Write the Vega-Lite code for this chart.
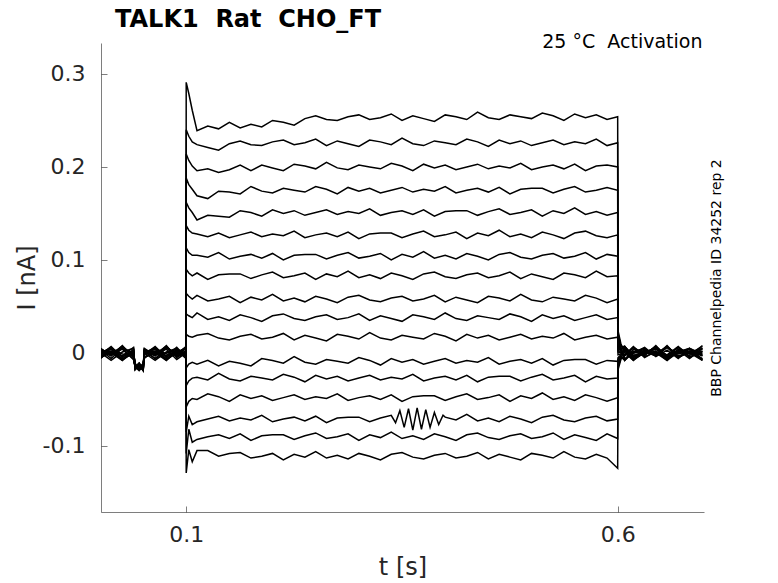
{
"$schema":"https://vega.github.io/schema/vega-lite/v6.json",
"width":603,"height":469,
"autosize":{"type":"none"},
"padding":{"left":101,"top":43,"right":74,"bottom":71},
"background":"white",
"title":{"text":"TALK1\u00a0 Rat\u00a0 CHO_FT","anchor":"start","frame":"group","dx":14,"offset":1,"font":"DejaVu Sans","fontSize":24,"fontWeight":"bold","color":"#000000"},
"config":{"view":{"stroke":null},"axis":{"labelFont":"DejaVu Sans","titleFont":"DejaVu Sans","grid":false}},
"resolve":{"axis":{"y":"independent","x":"independent"}},
"layer":[
{"data":{"values":[
{"s":1,"t":0.001,"i":-0.003},{"s":1,"t":0.013,"i":0},{"s":1,"t":0.026,"i":0.005},{"s":1,"t":0.039,"i":-0.007},{"s":1,"t":0.0408,"i":-0.014},{"s":1,"t":0.0455,"i":-0.017},{"s":1,"t":0.0502,"i":-0.011},{"s":1,"t":0.0515,"i":-0.005},{"s":1,"t":0.064,"i":0.001},{"s":1,"t":0.077,"i":0.004},{"s":1,"t":0.089,"i":-0.007},{"s":1,"t":0.0998,"i":0},
{"s":1,"t":0.1,"i":0.291},{"s":1,"t":0.103,"i":0.279},{"s":1,"t":0.107,"i":0.261},
{"s":1,"t":0.1125,"i":0.239},{"s":1,"t":0.125,"i":0.244},{"s":1,"t":0.1375,"i":0.241},{"s":1,"t":0.15,"i":0.248},{"s":1,"t":0.1625,"i":0.242},{"s":1,"t":0.175,"i":0.246},{"s":1,"t":0.1875,"i":0.243},{"s":1,"t":0.2,"i":0.25},{"s":1,"t":0.2125,"i":0.248},{"s":1,"t":0.225,"i":0.245},{"s":1,"t":0.2375,"i":0.252},{"s":1,"t":0.25,"i":0.255},{"s":1,"t":0.2625,"i":0.251},{"s":1,"t":0.275,"i":0.25},{"s":1,"t":0.2875,"i":0.254},{"s":1,"t":0.3,"i":0.256},{"s":1,"t":0.3125,"i":0.251},{"s":1,"t":0.325,"i":0.253},{"s":1,"t":0.3375,"i":0.257},{"s":1,"t":0.35,"i":0.25},{"s":1,"t":0.3625,"i":0.255},{"s":1,"t":0.375,"i":0.252},{"s":1,"t":0.3875,"i":0.249},{"s":1,"t":0.4,"i":0.256},{"s":1,"t":0.4125,"i":0.254},{"s":1,"t":0.425,"i":0.251},{"s":1,"t":0.4375,"i":0.259},{"s":1,"t":0.45,"i":0.253},{"s":1,"t":0.4625,"i":0.251},{"s":1,"t":0.475,"i":0.256},{"s":1,"t":0.4875,"i":0.254},{"s":1,"t":0.5,"i":0.252},{"s":1,"t":0.5125,"i":0.258},{"s":1,"t":0.525,"i":0.255},{"s":1,"t":0.5375,"i":0.25},{"s":1,"t":0.55,"i":0.257},{"s":1,"t":0.5625,"i":0.253},{"s":1,"t":0.575,"i":0.256},{"s":1,"t":0.5875,"i":0.251},{"s":1,"t":0.5998,"i":0.254},
{"s":1,"t":0.6002,"i":0.024},{"s":1,"t":0.6035,"i":0.01},{"s":1,"t":0.608,"i":0},{"s":1,"t":0.618,"i":-0.008},{"s":1,"t":0.631,"i":0.001},{"s":1,"t":0.644,"i":0.005},{"s":1,"t":0.657,"i":-0.003},{"s":1,"t":0.67,"i":0.006},{"s":1,"t":0.683,"i":-0.001},{"s":1,"t":0.698,"i":0.002},
{"s":2,"t":0.001,"i":-0.005},{"s":2,"t":0.013,"i":0.001},{"s":2,"t":0.026,"i":0.004},{"s":2,"t":0.039,"i":-0.007},{"s":2,"t":0.0408,"i":-0.015},{"s":2,"t":0.0455,"i":-0.012},{"s":2,"t":0.0502,"i":-0.017},{"s":2,"t":0.0515,"i":0.003},{"s":2,"t":0.064,"i":-0.006},{"s":2,"t":0.077,"i":0.005},{"s":2,"t":0.089,"i":-0.001},{"s":2,"t":0.0998,"i":-0.002},
{"s":2,"t":0.1,"i":0.24},{"s":2,"t":0.103,"i":0.233},{"s":2,"t":0.107,"i":0.227},
{"s":2,"t":0.1125,"i":0.224},{"s":2,"t":0.125,"i":0.221},{"s":2,"t":0.1375,"i":0.218},{"s":2,"t":0.15,"i":0.225},{"s":2,"t":0.1625,"i":0.228},{"s":2,"t":0.175,"i":0.224},{"s":2,"t":0.1875,"i":0.223},{"s":2,"t":0.2,"i":0.227},{"s":2,"t":0.2125,"i":0.229},{"s":2,"t":0.225,"i":0.224},{"s":2,"t":0.2375,"i":0.226},{"s":2,"t":0.25,"i":0.23},{"s":2,"t":0.2625,"i":0.223},{"s":2,"t":0.275,"i":0.228},{"s":2,"t":0.2875,"i":0.225},{"s":2,"t":0.3,"i":0.222},{"s":2,"t":0.3125,"i":0.229},{"s":2,"t":0.325,"i":0.227},{"s":2,"t":0.3375,"i":0.224},{"s":2,"t":0.35,"i":0.231},{"s":2,"t":0.3625,"i":0.225},{"s":2,"t":0.375,"i":0.223},{"s":2,"t":0.3875,"i":0.228},{"s":2,"t":0.4,"i":0.226},{"s":2,"t":0.4125,"i":0.224},{"s":2,"t":0.425,"i":0.23},{"s":2,"t":0.4375,"i":0.227},{"s":2,"t":0.45,"i":0.222},{"s":2,"t":0.4625,"i":0.229},{"s":2,"t":0.475,"i":0.225},{"s":2,"t":0.4875,"i":0.228},{"s":2,"t":0.5,"i":0.223},{"s":2,"t":0.5125,"i":0.226},{"s":2,"t":0.525,"i":0.229},{"s":2,"t":0.5375,"i":0.224},{"s":2,"t":0.55,"i":0.227},{"s":2,"t":0.5625,"i":0.225},{"s":2,"t":0.575,"i":0.23},{"s":2,"t":0.5875,"i":0.223},{"s":2,"t":0.5998,"i":0.226},
{"s":2,"t":0.6002,"i":0.021},{"s":2,"t":0.6035,"i":0.008},{"s":2,"t":0.608,"i":0.002},{"s":2,"t":0.618,"i":-0.006},{"s":2,"t":0.631,"i":0},{"s":2,"t":0.644,"i":0.004},{"s":2,"t":0.657,"i":-0.002},{"s":2,"t":0.67,"i":0.007},{"s":2,"t":0.683,"i":-0.004},{"s":2,"t":0.698,"i":0.001},
{"s":3,"t":0.001,"i":0.003},{"s":3,"t":0.013,"i":-0.006},{"s":3,"t":0.026,"i":0.005},{"s":3,"t":0.039,"i":-0.001},{"s":3,"t":0.0408,"i":-0.016},{"s":3,"t":0.0455,"i":-0.011},{"s":3,"t":0.0502,"i":-0.018},{"s":3,"t":0.0515,"i":0.003},{"s":3,"t":0.064,"i":0},{"s":3,"t":0.077,"i":-0.008},{"s":3,"t":0.089,"i":0.001},{"s":3,"t":0.0998,"i":0.005},
{"s":3,"t":0.1,"i":0.214},{"s":3,"t":0.103,"i":0.207},{"s":3,"t":0.107,"i":0.201},
{"s":3,"t":0.1125,"i":0.196},{"s":3,"t":0.125,"i":0.198},{"s":3,"t":0.1375,"i":0.194},{"s":3,"t":0.15,"i":0.197},{"s":3,"t":0.1625,"i":0.202},{"s":3,"t":0.175,"i":0.196},{"s":3,"t":0.1875,"i":0.202},{"s":3,"t":0.2,"i":0.199},{"s":3,"t":0.2125,"i":0.196},{"s":3,"t":0.225,"i":0.203},{"s":3,"t":0.2375,"i":0.201},{"s":3,"t":0.25,"i":0.198},{"s":3,"t":0.2625,"i":0.205},{"s":3,"t":0.275,"i":0.199},{"s":3,"t":0.2875,"i":0.197},{"s":3,"t":0.3,"i":0.202},{"s":3,"t":0.3125,"i":0.2},{"s":3,"t":0.325,"i":0.198},{"s":3,"t":0.3375,"i":0.204},{"s":3,"t":0.35,"i":0.201},{"s":3,"t":0.3625,"i":0.196},{"s":3,"t":0.375,"i":0.203},{"s":3,"t":0.3875,"i":0.199},{"s":3,"t":0.4,"i":0.202},{"s":3,"t":0.4125,"i":0.197},{"s":3,"t":0.425,"i":0.2},{"s":3,"t":0.4375,"i":0.203},{"s":3,"t":0.45,"i":0.198},{"s":3,"t":0.4625,"i":0.201},{"s":3,"t":0.475,"i":0.199},{"s":3,"t":0.4875,"i":0.204},{"s":3,"t":0.5,"i":0.197},{"s":3,"t":0.5125,"i":0.2},{"s":3,"t":0.525,"i":0.202},{"s":3,"t":0.5375,"i":0.198},{"s":3,"t":0.55,"i":0.203},{"s":3,"t":0.5625,"i":0.196},{"s":3,"t":0.575,"i":0.201},{"s":3,"t":0.5875,"i":0.202},{"s":3,"t":0.5998,"i":0.2},
{"s":3,"t":0.6002,"i":0.019},{"s":3,"t":0.6035,"i":0.007},{"s":3,"t":0.608,"i":0.007},{"s":3,"t":0.618,"i":-0.004},{"s":3,"t":0.631,"i":0.001},{"s":3,"t":0.644,"i":-0.003},{"s":3,"t":0.657,"i":0.006},{"s":3,"t":0.67,"i":-0.005},{"s":3,"t":0.683,"i":0.002},{"s":3,"t":0.698,"i":-0.008},
{"s":4,"t":0.001,"i":0.003},{"s":4,"t":0.013,"i":0},{"s":4,"t":0.026,"i":-0.008},{"s":4,"t":0.039,"i":0.001},{"s":4,"t":0.0408,"i":-0.013},{"s":4,"t":0.0455,"i":-0.017},{"s":4,"t":0.0502,"i":-0.012},{"s":4,"t":0.0515,"i":-0.001},{"s":4,"t":0.064,"i":0.002},{"s":4,"t":0.077,"i":-0.006},{"s":4,"t":0.089,"i":0},{"s":4,"t":0.0998,"i":0.004},
{"s":4,"t":0.1,"i":0.188},{"s":4,"t":0.103,"i":0.181},{"s":4,"t":0.107,"i":0.176},
{"s":4,"t":0.1125,"i":0.169},{"s":4,"t":0.125,"i":0.166},{"s":4,"t":0.1375,"i":0.174},{"s":4,"t":0.15,"i":0.173},{"s":4,"t":0.1625,"i":0.171},{"s":4,"t":0.175,"i":0.179},{"s":4,"t":0.1875,"i":0.174},{"s":4,"t":0.2,"i":0.172},{"s":4,"t":0.2125,"i":0.177},{"s":4,"t":0.225,"i":0.175},{"s":4,"t":0.2375,"i":0.173},{"s":4,"t":0.25,"i":0.179},{"s":4,"t":0.2625,"i":0.176},{"s":4,"t":0.275,"i":0.171},{"s":4,"t":0.2875,"i":0.178},{"s":4,"t":0.3,"i":0.174},{"s":4,"t":0.3125,"i":0.177},{"s":4,"t":0.325,"i":0.172},{"s":4,"t":0.3375,"i":0.175},{"s":4,"t":0.35,"i":0.178},{"s":4,"t":0.3625,"i":0.173},{"s":4,"t":0.375,"i":0.176},{"s":4,"t":0.3875,"i":0.174},{"s":4,"t":0.4,"i":0.179},{"s":4,"t":0.4125,"i":0.172},{"s":4,"t":0.425,"i":0.175},{"s":4,"t":0.4375,"i":0.177},{"s":4,"t":0.45,"i":0.173},{"s":4,"t":0.4625,"i":0.178},{"s":4,"t":0.475,"i":0.171},{"s":4,"t":0.4875,"i":0.176},{"s":4,"t":0.5,"i":0.177},{"s":4,"t":0.5125,"i":0.177},{"s":4,"t":0.525,"i":0.172},{"s":4,"t":0.5375,"i":0.176},{"s":4,"t":0.55,"i":0.179},{"s":4,"t":0.5625,"i":0.173},{"s":4,"t":0.575,"i":0.175},{"s":4,"t":0.5875,"i":0.178},{"s":4,"t":0.5998,"i":0.175},
{"s":4,"t":0.6002,"i":0.016},{"s":4,"t":0.6035,"i":0.006},{"s":4,"t":0.608,"i":-0.008},{"s":4,"t":0.618,"i":0.004},{"s":4,"t":0.631,"i":-0.001},{"s":4,"t":0.644,"i":0.007},{"s":4,"t":0.657,"i":-0.003},{"s":4,"t":0.67,"i":0},{"s":4,"t":0.683,"i":0.005},{"s":4,"t":0.698,"i":-0.007},
{"s":5,"t":0.001,"i":-0.001},{"s":5,"t":0.013,"i":0.002},{"s":5,"t":0.026,"i":-0.006},{"s":5,"t":0.039,"i":0},{"s":5,"t":0.0408,"i":-0.013},{"s":5,"t":0.0455,"i":-0.016},{"s":5,"t":0.0502,"i":-0.012},{"s":5,"t":0.0515,"i":-0.004},{"s":5,"t":0.064,"i":0.001},{"s":5,"t":0.077,"i":-0.003},{"s":5,"t":0.089,"i":0.006},{"s":5,"t":0.0998,"i":-0.005},
{"s":5,"t":0.1,"i":0.162},{"s":5,"t":0.103,"i":0.156},{"s":5,"t":0.107,"i":0.151},
{"s":5,"t":0.1125,"i":0.143},{"s":5,"t":0.125,"i":0.148},{"s":5,"t":0.1375,"i":0.147},{"s":5,"t":0.15,"i":0.146},{"s":5,"t":0.1625,"i":0.153},{"s":5,"t":0.175,"i":0.151},{"s":5,"t":0.1875,"i":0.147},{"s":5,"t":0.2,"i":0.154},{"s":5,"t":0.2125,"i":0.15},{"s":5,"t":0.225,"i":0.153},{"s":5,"t":0.2375,"i":0.148},{"s":5,"t":0.25,"i":0.151},{"s":5,"t":0.2625,"i":0.154},{"s":5,"t":0.275,"i":0.149},{"s":5,"t":0.2875,"i":0.152},{"s":5,"t":0.3,"i":0.15},{"s":5,"t":0.3125,"i":0.155},{"s":5,"t":0.325,"i":0.148},{"s":5,"t":0.3375,"i":0.151},{"s":5,"t":0.35,"i":0.153},{"s":5,"t":0.3625,"i":0.149},{"s":5,"t":0.375,"i":0.154},{"s":5,"t":0.3875,"i":0.147},{"s":5,"t":0.4,"i":0.152},{"s":5,"t":0.4125,"i":0.153},{"s":5,"t":0.425,"i":0.153},{"s":5,"t":0.4375,"i":0.148},{"s":5,"t":0.45,"i":0.152},{"s":5,"t":0.4625,"i":0.155},{"s":5,"t":0.475,"i":0.149},{"s":5,"t":0.4875,"i":0.151},{"s":5,"t":0.5,"i":0.154},{"s":5,"t":0.5125,"i":0.147},{"s":5,"t":0.525,"i":0.153},{"s":5,"t":0.5375,"i":0.15},{"s":5,"t":0.55,"i":0.156},{"s":5,"t":0.5625,"i":0.149},{"s":5,"t":0.575,"i":0.152},{"s":5,"t":0.5875,"i":0.148},{"s":5,"t":0.5998,"i":0.151},
{"s":5,"t":0.6002,"i":0.014},{"s":5,"t":0.6035,"i":0.005},{"s":5,"t":0.608,"i":-0.007},{"s":5,"t":0.618,"i":0.002},{"s":5,"t":0.631,"i":-0.003},{"s":5,"t":0.644,"i":0.008},{"s":5,"t":0.657,"i":-0.005},{"s":5,"t":0.67,"i":0.001},{"s":5,"t":0.683,"i":0.004},{"s":5,"t":0.698,"i":-0.007},
{"s":6,"t":0.001,"i":-0.004},{"s":6,"t":0.013,"i":0.001},{"s":6,"t":0.026,"i":-0.003},{"s":6,"t":0.039,"i":0.006},{"s":6,"t":0.0408,"i":-0.018},{"s":6,"t":0.0455,"i":-0.014},{"s":6,"t":0.0502,"i":-0.019},{"s":6,"t":0.0515,"i":0.004},{"s":6,"t":0.064,"i":-0.001},{"s":6,"t":0.077,"i":0.007},{"s":6,"t":0.089,"i":-0.003},{"s":6,"t":0.0998,"i":0},
{"s":6,"t":0.1,"i":0.137},{"s":6,"t":0.103,"i":0.132},{"s":6,"t":0.107,"i":0.129},
{"s":6,"t":0.1125,"i":0.128},{"s":6,"t":0.125,"i":0.125},{"s":6,"t":0.1375,"i":0.129},{"s":6,"t":0.15,"i":0.124},{"s":6,"t":0.1625,"i":0.127},{"s":6,"t":0.175,"i":0.13},{"s":6,"t":0.1875,"i":0.125},{"s":6,"t":0.2,"i":0.128},{"s":6,"t":0.2125,"i":0.126},{"s":6,"t":0.225,"i":0.131},{"s":6,"t":0.2375,"i":0.124},{"s":6,"t":0.25,"i":0.127},{"s":6,"t":0.2625,"i":0.129},{"s":6,"t":0.275,"i":0.125},{"s":6,"t":0.2875,"i":0.13},{"s":6,"t":0.3,"i":0.123},{"s":6,"t":0.3125,"i":0.128},{"s":6,"t":0.325,"i":0.129},{"s":6,"t":0.3375,"i":0.129},{"s":6,"t":0.35,"i":0.124},{"s":6,"t":0.3625,"i":0.128},{"s":6,"t":0.375,"i":0.131},{"s":6,"t":0.3875,"i":0.125},{"s":6,"t":0.4,"i":0.127},{"s":6,"t":0.4125,"i":0.13},{"s":6,"t":0.425,"i":0.123},{"s":6,"t":0.4375,"i":0.129},{"s":6,"t":0.45,"i":0.126},{"s":6,"t":0.4625,"i":0.132},{"s":6,"t":0.475,"i":0.125},{"s":6,"t":0.4875,"i":0.128},{"s":6,"t":0.5,"i":0.124},{"s":6,"t":0.5125,"i":0.13},{"s":6,"t":0.525,"i":0.127},{"s":6,"t":0.5375,"i":0.123},{"s":6,"t":0.55,"i":0.129},{"s":6,"t":0.5625,"i":0.131},{"s":6,"t":0.575,"i":0.126},{"s":6,"t":0.5875,"i":0.124},{"s":6,"t":0.5998,"i":0.127},
{"s":6,"t":0.6002,"i":0.011},{"s":6,"t":0.6035,"i":0.004},{"s":6,"t":0.608,"i":-0.007},{"s":6,"t":0.618,"i":0},{"s":6,"t":0.631,"i":0.006},{"s":6,"t":0.644,"i":-0.004},{"s":6,"t":0.657,"i":0.003},{"s":6,"t":0.67,"i":-0.006},{"s":6,"t":0.683,"i":0.005},{"s":6,"t":0.698,"i":-0.001},
{"s":7,"t":0.001,"i":0.004},{"s":7,"t":0.013,"i":-0.001},{"s":7,"t":0.026,"i":0.007},{"s":7,"t":0.039,"i":-0.003},{"s":7,"t":0.0408,"i":-0.015},{"s":7,"t":0.0455,"i":-0.012},{"s":7,"t":0.0502,"i":-0.019},{"s":7,"t":0.0515,"i":0.002},{"s":7,"t":0.064,"i":-0.003},{"s":7,"t":0.077,"i":0.008},{"s":7,"t":0.089,"i":-0.005},{"s":7,"t":0.0998,"i":0.001},
{"s":7,"t":0.1,"i":0.113},{"s":7,"t":0.103,"i":0.108},{"s":7,"t":0.107,"i":0.105},
{"s":7,"t":0.1125,"i":0.105},{"s":7,"t":0.125,"i":0.103},{"s":7,"t":0.1375,"i":0.108},{"s":7,"t":0.15,"i":0.101},{"s":7,"t":0.1625,"i":0.104},{"s":7,"t":0.175,"i":0.106},{"s":7,"t":0.1875,"i":0.102},{"s":7,"t":0.2,"i":0.107},{"s":7,"t":0.2125,"i":0.1},{"s":7,"t":0.225,"i":0.105},{"s":7,"t":0.2375,"i":0.106},{"s":7,"t":0.25,"i":0.106},{"s":7,"t":0.2625,"i":0.101},{"s":7,"t":0.275,"i":0.105},{"s":7,"t":0.2875,"i":0.108},{"s":7,"t":0.3,"i":0.102},{"s":7,"t":0.3125,"i":0.104},{"s":7,"t":0.325,"i":0.107},{"s":7,"t":0.3375,"i":0.1},{"s":7,"t":0.35,"i":0.106},{"s":7,"t":0.3625,"i":0.103},{"s":7,"t":0.375,"i":0.109},{"s":7,"t":0.3875,"i":0.102},{"s":7,"t":0.4,"i":0.105},{"s":7,"t":0.4125,"i":0.101},{"s":7,"t":0.425,"i":0.107},{"s":7,"t":0.4375,"i":0.104},{"s":7,"t":0.45,"i":0.1},{"s":7,"t":0.4625,"i":0.106},{"s":7,"t":0.475,"i":0.108},{"s":7,"t":0.4875,"i":0.103},{"s":7,"t":0.5,"i":0.101},{"s":7,"t":0.5125,"i":0.105},{"s":7,"t":0.525,"i":0.107},{"s":7,"t":0.5375,"i":0.102},{"s":7,"t":0.55,"i":0.104},{"s":7,"t":0.5625,"i":0.108},{"s":7,"t":0.575,"i":0.101},{"s":7,"t":0.5875,"i":0.106},{"s":7,"t":0.5998,"i":0.104},
{"s":7,"t":0.6002,"i":0.008},{"s":7,"t":0.6035,"i":0.003},{"s":7,"t":0.608,"i":0.007},{"s":7,"t":0.618,"i":-0.005},{"s":7,"t":0.631,"i":0.003},{"s":7,"t":0.644,"i":0},{"s":7,"t":0.657,"i":-0.008},{"s":7,"t":0.67,"i":0.001},{"s":7,"t":0.683,"i":0.005},{"s":7,"t":0.698,"i":-0.003},
{"s":8,"t":0.001,"i":0.002},{"s":8,"t":0.013,"i":-0.003},{"s":8,"t":0.026,"i":0.008},{"s":8,"t":0.039,"i":-0.005},{"s":8,"t":0.0408,"i":-0.014},{"s":8,"t":0.0455,"i":-0.013},{"s":8,"t":0.0502,"i":-0.019},{"s":8,"t":0.0515,"i":0},{"s":8,"t":0.064,"i":0.006},{"s":8,"t":0.077,"i":-0.004},{"s":8,"t":0.089,"i":0.003},{"s":8,"t":0.0998,"i":-0.006},
{"s":8,"t":0.1,"i":0.09},{"s":8,"t":0.103,"i":0.086},{"s":8,"t":0.107,"i":0.083},
{"s":8,"t":0.1125,"i":0.086},{"s":8,"t":0.125,"i":0.079},{"s":8,"t":0.1375,"i":0.084},{"s":8,"t":0.15,"i":0.085},{"s":8,"t":0.1625,"i":0.085},{"s":8,"t":0.175,"i":0.08},{"s":8,"t":0.1875,"i":0.084},{"s":8,"t":0.2,"i":0.087},{"s":8,"t":0.2125,"i":0.081},{"s":8,"t":0.225,"i":0.083},{"s":8,"t":0.2375,"i":0.086},{"s":8,"t":0.25,"i":0.079},{"s":8,"t":0.2625,"i":0.085},{"s":8,"t":0.275,"i":0.082},{"s":8,"t":0.2875,"i":0.088},{"s":8,"t":0.3,"i":0.081},{"s":8,"t":0.3125,"i":0.084},{"s":8,"t":0.325,"i":0.08},{"s":8,"t":0.3375,"i":0.086},{"s":8,"t":0.35,"i":0.083},{"s":8,"t":0.3625,"i":0.079},{"s":8,"t":0.375,"i":0.085},{"s":8,"t":0.3875,"i":0.087},{"s":8,"t":0.4,"i":0.082},{"s":8,"t":0.4125,"i":0.08},{"s":8,"t":0.425,"i":0.084},{"s":8,"t":0.4375,"i":0.086},{"s":8,"t":0.45,"i":0.081},{"s":8,"t":0.4625,"i":0.083},{"s":8,"t":0.475,"i":0.087},{"s":8,"t":0.4875,"i":0.08},{"s":8,"t":0.5,"i":0.085},{"s":8,"t":0.5125,"i":0.082},{"s":8,"t":0.525,"i":0.079},{"s":8,"t":0.5375,"i":0.086},{"s":8,"t":0.55,"i":0.084},{"s":8,"t":0.5625,"i":0.081},{"s":8,"t":0.575,"i":0.088},{"s":8,"t":0.5875,"i":0.082},{"s":8,"t":0.5998,"i":0.083},
{"s":8,"t":0.6002,"i":0.006},{"s":8,"t":0.6035,"i":0.002},{"s":8,"t":0.608,"i":-0.003},{"s":8,"t":0.618,"i":0.006},{"s":8,"t":0.631,"i":-0.001},{"s":8,"t":0.644,"i":0.002},{"s":8,"t":0.657,"i":-0.006},{"s":8,"t":0.67,"i":0},{"s":8,"t":0.683,"i":0.004},{"s":8,"t":0.698,"i":-0.002},
{"s":9,"t":0.001,"i":0},{"s":9,"t":0.013,"i":0.006},{"s":9,"t":0.026,"i":-0.004},{"s":9,"t":0.039,"i":0.003},{"s":9,"t":0.0408,"i":-0.018},{"s":9,"t":0.0455,"i":-0.012},{"s":9,"t":0.0502,"i":-0.016},{"s":9,"t":0.0515,"i":-0.002},{"s":9,"t":0.064,"i":0.007},{"s":9,"t":0.077,"i":-0.005},{"s":9,"t":0.089,"i":0.003},{"s":9,"t":0.0998,"i":0},
{"s":9,"t":0.1,"i":0.064},{"s":9,"t":0.103,"i":0.061},{"s":9,"t":0.107,"i":0.058},
{"s":9,"t":0.1125,"i":0.062},{"s":9,"t":0.125,"i":0.056},{"s":9,"t":0.1375,"i":0.058},{"s":9,"t":0.15,"i":0.061},{"s":9,"t":0.1625,"i":0.054},{"s":9,"t":0.175,"i":0.06},{"s":9,"t":0.1875,"i":0.057},{"s":9,"t":0.2,"i":0.063},{"s":9,"t":0.2125,"i":0.056},{"s":9,"t":0.225,"i":0.059},{"s":9,"t":0.2375,"i":0.055},{"s":9,"t":0.25,"i":0.061},{"s":9,"t":0.2625,"i":0.058},{"s":9,"t":0.275,"i":0.054},{"s":9,"t":0.2875,"i":0.06},{"s":9,"t":0.3,"i":0.062},{"s":9,"t":0.3125,"i":0.057},{"s":9,"t":0.325,"i":0.055},{"s":9,"t":0.3375,"i":0.059},{"s":9,"t":0.35,"i":0.061},{"s":9,"t":0.3625,"i":0.056},{"s":9,"t":0.375,"i":0.058},{"s":9,"t":0.3875,"i":0.062},{"s":9,"t":0.4,"i":0.055},{"s":9,"t":0.4125,"i":0.06},{"s":9,"t":0.425,"i":0.057},{"s":9,"t":0.4375,"i":0.054},{"s":9,"t":0.45,"i":0.061},{"s":9,"t":0.4625,"i":0.059},{"s":9,"t":0.475,"i":0.056},{"s":9,"t":0.4875,"i":0.063},{"s":9,"t":0.5,"i":0.057},{"s":9,"t":0.5125,"i":0.055},{"s":9,"t":0.525,"i":0.06},{"s":9,"t":0.5375,"i":0.058},{"s":9,"t":0.55,"i":0.056},{"s":9,"t":0.5625,"i":0.062},{"s":9,"t":0.575,"i":0.059},{"s":9,"t":0.5875,"i":0.054},{"s":9,"t":0.5998,"i":0.058},
{"s":9,"t":0.6002,"i":0.003},{"s":9,"t":0.6035,"i":0.001},{"s":9,"t":0.608,"i":-0.002},{"s":9,"t":0.618,"i":0.007},{"s":9,"t":0.631,"i":-0.004},{"s":9,"t":0.644,"i":0.001},{"s":9,"t":0.657,"i":-0.003},{"s":9,"t":0.67,"i":0.006},{"s":9,"t":0.683,"i":-0.005},{"s":9,"t":0.698,"i":0.002},
{"s":10,"t":0.001,"i":-0.002},{"s":10,"t":0.013,"i":0.007},{"s":10,"t":0.026,"i":-0.005},{"s":10,"t":0.039,"i":0.003},{"s":10,"t":0.0408,"i":-0.015},{"s":10,"t":0.0455,"i":-0.019},{"s":10,"t":0.0502,"i":-0.014},{"s":10,"t":0.0515,"i":0.005},{"s":10,"t":0.064,"i":-0.003},{"s":10,"t":0.077,"i":0.006},{"s":10,"t":0.089,"i":-0.001},{"s":10,"t":0.0998,"i":0.002},
{"s":10,"t":0.1,"i":0.042},{"s":10,"t":0.103,"i":0.04},{"s":10,"t":0.107,"i":0.038},
{"s":10,"t":0.1125,"i":0.043},{"s":10,"t":0.125,"i":0.036},{"s":10,"t":0.1375,"i":0.039},{"s":10,"t":0.15,"i":0.035},{"s":10,"t":0.1625,"i":0.041},{"s":10,"t":0.175,"i":0.038},{"s":10,"t":0.1875,"i":0.034},{"s":10,"t":0.2,"i":0.04},{"s":10,"t":0.2125,"i":0.042},{"s":10,"t":0.225,"i":0.037},{"s":10,"t":0.2375,"i":0.035},{"s":10,"t":0.25,"i":0.039},{"s":10,"t":0.2625,"i":0.041},{"s":10,"t":0.275,"i":0.036},{"s":10,"t":0.2875,"i":0.038},{"s":10,"t":0.3,"i":0.042},{"s":10,"t":0.3125,"i":0.035},{"s":10,"t":0.325,"i":0.04},{"s":10,"t":0.3375,"i":0.037},{"s":10,"t":0.35,"i":0.034},{"s":10,"t":0.3625,"i":0.041},{"s":10,"t":0.375,"i":0.039},{"s":10,"t":0.3875,"i":0.036},{"s":10,"t":0.4,"i":0.043},{"s":10,"t":0.4125,"i":0.037},{"s":10,"t":0.425,"i":0.035},{"s":10,"t":0.4375,"i":0.04},{"s":10,"t":0.45,"i":0.038},{"s":10,"t":0.4625,"i":0.036},{"s":10,"t":0.475,"i":0.042},{"s":10,"t":0.4875,"i":0.039},{"s":10,"t":0.5,"i":0.034},{"s":10,"t":0.5125,"i":0.041},{"s":10,"t":0.525,"i":0.037},{"s":10,"t":0.5375,"i":0.04},{"s":10,"t":0.55,"i":0.035},{"s":10,"t":0.5625,"i":0.038},{"s":10,"t":0.575,"i":0.041},{"s":10,"t":0.5875,"i":0.036},{"s":10,"t":0.5998,"i":0.038},
{"s":10,"t":0.6002,"i":0.001},{"s":10,"t":0.6035,"i":0},{"s":10,"t":0.608,"i":0.002},{"s":10,"t":0.618,"i":-0.008},{"s":10,"t":0.631,"i":0.004},{"s":10,"t":0.644,"i":-0.001},{"s":10,"t":0.657,"i":0.007},{"s":10,"t":0.67,"i":-0.003},{"s":10,"t":0.683,"i":0},{"s":10,"t":0.698,"i":0.005},
{"s":11,"t":0.001,"i":0.005},{"s":11,"t":0.013,"i":-0.003},{"s":11,"t":0.026,"i":0.006},{"s":11,"t":0.039,"i":-0.001},{"s":11,"t":0.0408,"i":-0.014},{"s":11,"t":0.0455,"i":-0.018},{"s":11,"t":0.0502,"i":-0.015},{"s":11,"t":0.0515,"i":0.004},{"s":11,"t":0.064,"i":-0.002},{"s":11,"t":0.077,"i":0.007},{"s":11,"t":0.089,"i":-0.004},{"s":11,"t":0.0998,"i":0.001},
{"s":11,"t":0.1,"i":0.02},{"s":11,"t":0.103,"i":0.018},{"s":11,"t":0.107,"i":0.017},
{"s":11,"t":0.1125,"i":0.019},{"s":11,"t":0.125,"i":0.021},{"s":11,"t":0.1375,"i":0.016},{"s":11,"t":0.15,"i":0.014},{"s":11,"t":0.1625,"i":0.018},{"s":11,"t":0.175,"i":0.02},{"s":11,"t":0.1875,"i":0.015},{"s":11,"t":0.2,"i":0.017},{"s":11,"t":0.2125,"i":0.021},{"s":11,"t":0.225,"i":0.014},{"s":11,"t":0.2375,"i":0.019},{"s":11,"t":0.25,"i":0.016},{"s":11,"t":0.2625,"i":0.013},{"s":11,"t":0.275,"i":0.02},{"s":11,"t":0.2875,"i":0.018},{"s":11,"t":0.3,"i":0.015},{"s":11,"t":0.3125,"i":0.022},{"s":11,"t":0.325,"i":0.016},{"s":11,"t":0.3375,"i":0.014},{"s":11,"t":0.35,"i":0.019},{"s":11,"t":0.3625,"i":0.017},{"s":11,"t":0.375,"i":0.015},{"s":11,"t":0.3875,"i":0.021},{"s":11,"t":0.4,"i":0.018},{"s":11,"t":0.4125,"i":0.013},{"s":11,"t":0.425,"i":0.02},{"s":11,"t":0.4375,"i":0.016},{"s":11,"t":0.45,"i":0.019},{"s":11,"t":0.4625,"i":0.014},{"s":11,"t":0.475,"i":0.017},{"s":11,"t":0.4875,"i":0.02},{"s":11,"t":0.5,"i":0.015},{"s":11,"t":0.5125,"i":0.018},{"s":11,"t":0.525,"i":0.016},{"s":11,"t":0.5375,"i":0.021},{"s":11,"t":0.55,"i":0.014},{"s":11,"t":0.5625,"i":0.017},{"s":11,"t":0.575,"i":0.019},{"s":11,"t":0.5875,"i":0.015},{"s":11,"t":0.5998,"i":0.017},
{"s":11,"t":0.6002,"i":-0.002},{"s":11,"t":0.6035,"i":-0.001},{"s":11,"t":0.608,"i":0.005},{"s":11,"t":0.618,"i":-0.007},{"s":11,"t":0.631,"i":0.002},{"s":11,"t":0.644,"i":-0.003},{"s":11,"t":0.657,"i":0.008},{"s":11,"t":0.67,"i":-0.005},{"s":11,"t":0.683,"i":0.001},{"s":11,"t":0.698,"i":0.004},
{"s":12,"t":0.001,"i":0.004},{"s":12,"t":0.013,"i":-0.002},{"s":12,"t":0.026,"i":0.007},{"s":12,"t":0.039,"i":-0.004},{"s":12,"t":0.0408,"i":-0.014},{"s":12,"t":0.0455,"i":-0.017},{"s":12,"t":0.0502,"i":-0.012},{"s":12,"t":0.0515,"i":-0.005},{"s":12,"t":0.064,"i":0.002},{"s":12,"t":0.077,"i":-0.008},{"s":12,"t":0.089,"i":0.004},{"s":12,"t":0.0998,"i":-0.001},
{"s":12,"t":0.1,"i":-0.016},{"s":12,"t":0.103,"i":-0.012},{"s":12,"t":0.107,"i":-0.01},
{"s":12,"t":0.1125,"i":-0.012},{"s":12,"t":0.125,"i":-0.008},{"s":12,"t":0.1375,"i":-0.014},{"s":12,"t":0.15,"i":-0.009},{"s":12,"t":0.1625,"i":-0.011},{"s":12,"t":0.175,"i":-0.014},{"s":12,"t":0.1875,"i":-0.006},{"s":12,"t":0.2,"i":-0.008},{"s":12,"t":0.2125,"i":-0.011},{"s":12,"t":0.225,"i":-0.004},{"s":12,"t":0.2375,"i":-0.01},{"s":12,"t":0.25,"i":-0.012},{"s":12,"t":0.2625,"i":-0.007},{"s":12,"t":0.275,"i":-0.009},{"s":12,"t":0.2875,"i":-0.011},{"s":12,"t":0.3,"i":-0.005},{"s":12,"t":0.3125,"i":-0.008},{"s":12,"t":0.325,"i":-0.013},{"s":12,"t":0.3375,"i":-0.006},{"s":12,"t":0.35,"i":-0.01},{"s":12,"t":0.3625,"i":-0.007},{"s":12,"t":0.375,"i":-0.012},{"s":12,"t":0.3875,"i":-0.009},{"s":12,"t":0.4,"i":-0.006},{"s":12,"t":0.4125,"i":-0.011},{"s":12,"t":0.425,"i":-0.008},{"s":12,"t":0.4375,"i":-0.01},{"s":12,"t":0.45,"i":-0.005},{"s":12,"t":0.4625,"i":-0.012},{"s":12,"t":0.475,"i":-0.009},{"s":12,"t":0.4875,"i":-0.007},{"s":12,"t":0.5,"i":-0.011},{"s":12,"t":0.5125,"i":-0.006},{"s":12,"t":0.525,"i":-0.013},{"s":12,"t":0.5375,"i":-0.008},{"s":12,"t":0.55,"i":-0.007},{"s":12,"t":0.5625,"i":-0.007},{"s":12,"t":0.575,"i":-0.012},{"s":12,"t":0.5875,"i":-0.008},{"s":12,"t":0.5998,"i":-0.009},
{"s":12,"t":0.6002,"i":-0.005},{"s":12,"t":0.6035,"i":-0.002},{"s":12,"t":0.608,"i":0.004},{"s":12,"t":0.618,"i":-0.007},{"s":12,"t":0.631,"i":0},{"s":12,"t":0.644,"i":0.006},{"s":12,"t":0.657,"i":-0.004},{"s":12,"t":0.67,"i":0.003},{"s":12,"t":0.683,"i":-0.006},{"s":12,"t":0.698,"i":0.005},
{"s":13,"t":0.001,"i":-0.005},{"s":13,"t":0.013,"i":0.002},{"s":13,"t":0.026,"i":-0.008},{"s":13,"t":0.039,"i":0.004},{"s":13,"t":0.0408,"i":-0.015},{"s":13,"t":0.0455,"i":-0.011},{"s":13,"t":0.0502,"i":-0.017},{"s":13,"t":0.0515,"i":0},{"s":13,"t":0.064,"i":0.005},{"s":13,"t":0.077,"i":-0.007},{"s":13,"t":0.089,"i":0.002},{"s":13,"t":0.0998,"i":-0.003},
{"s":13,"t":0.1,"i":-0.035},{"s":13,"t":0.103,"i":-0.03},{"s":13,"t":0.107,"i":-0.027},
{"s":13,"t":0.1125,"i":-0.026},{"s":13,"t":0.125,"i":-0.029},{"s":13,"t":0.1375,"i":-0.022},{"s":13,"t":0.15,"i":-0.028},{"s":13,"t":0.1625,"i":-0.03},{"s":13,"t":0.175,"i":-0.025},{"s":13,"t":0.1875,"i":-0.027},{"s":13,"t":0.2,"i":-0.029},{"s":13,"t":0.2125,"i":-0.023},{"s":13,"t":0.225,"i":-0.026},{"s":13,"t":0.2375,"i":-0.031},{"s":13,"t":0.25,"i":-0.024},{"s":13,"t":0.2625,"i":-0.028},{"s":13,"t":0.275,"i":-0.025},{"s":13,"t":0.2875,"i":-0.03},{"s":13,"t":0.3,"i":-0.027},{"s":13,"t":0.3125,"i":-0.024},{"s":13,"t":0.325,"i":-0.029},{"s":13,"t":0.3375,"i":-0.026},{"s":13,"t":0.35,"i":-0.028},{"s":13,"t":0.3625,"i":-0.023},{"s":13,"t":0.375,"i":-0.03},{"s":13,"t":0.3875,"i":-0.027},{"s":13,"t":0.4,"i":-0.025},{"s":13,"t":0.4125,"i":-0.029},{"s":13,"t":0.425,"i":-0.024},{"s":13,"t":0.4375,"i":-0.031},{"s":13,"t":0.45,"i":-0.026},{"s":13,"t":0.4625,"i":-0.025},{"s":13,"t":0.475,"i":-0.025},{"s":13,"t":0.4875,"i":-0.03},{"s":13,"t":0.5,"i":-0.026},{"s":13,"t":0.5125,"i":-0.023},{"s":13,"t":0.525,"i":-0.029},{"s":13,"t":0.5375,"i":-0.027},{"s":13,"t":0.55,"i":-0.024},{"s":13,"t":0.5625,"i":-0.031},{"s":13,"t":0.575,"i":-0.025},{"s":13,"t":0.5875,"i":-0.028},{"s":13,"t":0.5998,"i":-0.027},
{"s":13,"t":0.6002,"i":-0.007},{"s":13,"t":0.6035,"i":-0.003},{"s":13,"t":0.608,"i":0.005},{"s":13,"t":0.618,"i":-0.001},{"s":13,"t":0.631,"i":-0.002},{"s":13,"t":0.644,"i":0.007},{"s":13,"t":0.657,"i":-0.005},{"s":13,"t":0.67,"i":0.003},{"s":13,"t":0.683,"i":0},{"s":13,"t":0.698,"i":-0.008},
{"s":14,"t":0.001,"i":0},{"s":14,"t":0.013,"i":0.005},{"s":14,"t":0.026,"i":-0.007},{"s":14,"t":0.039,"i":0.002},{"s":14,"t":0.0408,"i":-0.017},{"s":14,"t":0.0455,"i":-0.011},{"s":14,"t":0.0502,"i":-0.018},{"s":14,"t":0.0515,"i":0.001},{"s":14,"t":0.064,"i":0.004},{"s":14,"t":0.077,"i":-0.007},{"s":14,"t":0.089,"i":0},{"s":14,"t":0.0998,"i":0.006},
{"s":14,"t":0.1,"i":-0.058},{"s":14,"t":0.103,"i":-0.052},{"s":14,"t":0.107,"i":-0.049},
{"s":14,"t":0.1125,"i":-0.05},{"s":14,"t":0.125,"i":-0.044},{"s":14,"t":0.1375,"i":-0.047},{"s":14,"t":0.15,"i":-0.052},{"s":14,"t":0.1625,"i":-0.045},{"s":14,"t":0.175,"i":-0.049},{"s":14,"t":0.1875,"i":-0.046},{"s":14,"t":0.2,"i":-0.051},{"s":14,"t":0.2125,"i":-0.048},{"s":14,"t":0.225,"i":-0.045},{"s":14,"t":0.2375,"i":-0.05},{"s":14,"t":0.25,"i":-0.047},{"s":14,"t":0.2625,"i":-0.049},{"s":14,"t":0.275,"i":-0.044},{"s":14,"t":0.2875,"i":-0.051},{"s":14,"t":0.3,"i":-0.048},{"s":14,"t":0.3125,"i":-0.046},{"s":14,"t":0.325,"i":-0.05},{"s":14,"t":0.3375,"i":-0.045},{"s":14,"t":0.35,"i":-0.052},{"s":14,"t":0.3625,"i":-0.047},{"s":14,"t":0.375,"i":-0.046},{"s":14,"t":0.3875,"i":-0.046},{"s":14,"t":0.4,"i":-0.051},{"s":14,"t":0.4125,"i":-0.047},{"s":14,"t":0.425,"i":-0.044},{"s":14,"t":0.4375,"i":-0.05},{"s":14,"t":0.45,"i":-0.048},{"s":14,"t":0.4625,"i":-0.045},{"s":14,"t":0.475,"i":-0.052},{"s":14,"t":0.4875,"i":-0.046},{"s":14,"t":0.5,"i":-0.049},{"s":14,"t":0.5125,"i":-0.043},{"s":14,"t":0.525,"i":-0.05},{"s":14,"t":0.5375,"i":-0.047},{"s":14,"t":0.55,"i":-0.051},{"s":14,"t":0.5625,"i":-0.045},{"s":14,"t":0.575,"i":-0.048},{"s":14,"t":0.5875,"i":-0.052},{"s":14,"t":0.5998,"i":-0.048},
{"s":14,"t":0.6002,"i":-0.01},{"s":14,"t":0.6035,"i":-0.004},{"s":14,"t":0.608,"i":-0.008},{"s":14,"t":0.618,"i":0.001},{"s":14,"t":0.631,"i":0.005},{"s":14,"t":0.644,"i":-0.003},{"s":14,"t":0.657,"i":0.006},{"s":14,"t":0.67,"i":-0.001},{"s":14,"t":0.683,"i":0.002},{"s":14,"t":0.698,"i":-0.006},
{"s":15,"t":0.001,"i":0.001},{"s":15,"t":0.013,"i":0.004},{"s":15,"t":0.026,"i":-0.007},{"s":15,"t":0.039,"i":0},{"s":15,"t":0.0408,"i":-0.012},{"s":15,"t":0.0455,"i":-0.017},{"s":15,"t":0.0502,"i":-0.013},{"s":15,"t":0.0515,"i":-0.006},{"s":15,"t":0.064,"i":0.005},{"s":15,"t":0.077,"i":-0.001},{"s":15,"t":0.089,"i":-0.002},{"s":15,"t":0.0998,"i":0.007},
{"s":15,"t":0.1,"i":-0.085},{"s":15,"t":0.103,"i":-0.068},{"s":15,"t":0.107,"i":-0.077},
{"s":15,"t":0.1125,"i":-0.074},{"s":15,"t":0.125,"i":-0.071},{"s":15,"t":0.1375,"i":-0.068},{"s":15,"t":0.15,"i":-0.073},{"s":15,"t":0.1625,"i":-0.07},{"s":15,"t":0.175,"i":-0.072},{"s":15,"t":0.1875,"i":-0.067},{"s":15,"t":0.2,"i":-0.074},{"s":15,"t":0.2125,"i":-0.071},{"s":15,"t":0.225,"i":-0.069},{"s":15,"t":0.2375,"i":-0.073},{"s":15,"t":0.25,"i":-0.068},{"s":15,"t":0.2625,"i":-0.075},{"s":15,"t":0.275,"i":-0.07},{"s":15,"t":0.2875,"i":-0.069},{"s":15,"t":0.3,"i":-0.069},{"s":15,"t":0.3125,"i":-0.074},{"s":15,"t":0.325,"i":-0.07},{"s":15,"t":0.3375,"i":-0.067},
{"s":15,"t":0.3425,"i":-0.075},{"s":15,"t":0.3475,"i":-0.062},{"s":15,"t":0.3525,"i":-0.08},{"s":15,"t":0.3575,"i":-0.06},{"s":15,"t":0.3625,"i":-0.083},{"s":15,"t":0.3675,"i":-0.059},{"s":15,"t":0.3725,"i":-0.082},{"s":15,"t":0.3775,"i":-0.061},{"s":15,"t":0.3825,"i":-0.08},{"s":15,"t":0.3875,"i":-0.064},{"s":15,"t":0.3925,"i":-0.077},{"s":15,"t":0.3975,"i":-0.067},
{"s":15,"t":0.4,"i":-0.069},{"s":15,"t":0.4125,"i":-0.072},{"s":15,"t":0.425,"i":-0.066},{"s":15,"t":0.4375,"i":-0.073},{"s":15,"t":0.45,"i":-0.07},{"s":15,"t":0.4625,"i":-0.074},{"s":15,"t":0.475,"i":-0.068},{"s":15,"t":0.4875,"i":-0.071},{"s":15,"t":0.5,"i":-0.075},{"s":15,"t":0.5125,"i":-0.069},{"s":15,"t":0.525,"i":-0.067},{"s":15,"t":0.5375,"i":-0.072},{"s":15,"t":0.55,"i":-0.074},{"s":15,"t":0.5625,"i":-0.07},{"s":15,"t":0.575,"i":-0.068},{"s":15,"t":0.5875,"i":-0.073},{"s":15,"t":0.5998,"i":-0.071},
{"s":15,"t":0.6002,"i":-0.012},{"s":15,"t":0.6035,"i":-0.005},{"s":15,"t":0.608,"i":-0.006},{"s":15,"t":0.618,"i":0},{"s":15,"t":0.631,"i":0.004},{"s":15,"t":0.644,"i":-0.002},{"s":15,"t":0.657,"i":0.007},{"s":15,"t":0.67,"i":-0.004},{"s":15,"t":0.683,"i":0.001},{"s":15,"t":0.698,"i":-0.003},
{"s":16,"t":0.001,"i":-0.006},{"s":16,"t":0.013,"i":0.005},{"s":16,"t":0.026,"i":-0.001},{"s":16,"t":0.039,"i":-0.002},{"s":16,"t":0.0408,"i":-0.011},{"s":16,"t":0.0455,"i":-0.018},{"s":16,"t":0.0502,"i":-0.013},{"s":16,"t":0.0515,"i":0},{"s":16,"t":0.064,"i":-0.008},{"s":16,"t":0.077,"i":0.001},{"s":16,"t":0.089,"i":0.005},{"s":16,"t":0.0998,"i":-0.003},
{"s":16,"t":0.1,"i":-0.108},{"s":16,"t":0.103,"i":-0.082},{"s":16,"t":0.107,"i":-0.096},
{"s":16,"t":0.1125,"i":-0.093},{"s":16,"t":0.125,"i":-0.09},{"s":16,"t":0.1375,"i":-0.088},{"s":16,"t":0.15,"i":-0.092},{"s":16,"t":0.1625,"i":-0.087},{"s":16,"t":0.175,"i":-0.094},{"s":16,"t":0.1875,"i":-0.089},{"s":16,"t":0.2,"i":-0.088},{"s":16,"t":0.2125,"i":-0.088},{"s":16,"t":0.225,"i":-0.093},{"s":16,"t":0.2375,"i":-0.089},{"s":16,"t":0.25,"i":-0.086},{"s":16,"t":0.2625,"i":-0.092},{"s":16,"t":0.275,"i":-0.09},{"s":16,"t":0.2875,"i":-0.087},{"s":16,"t":0.3,"i":-0.094},{"s":16,"t":0.3125,"i":-0.088},{"s":16,"t":0.325,"i":-0.091},{"s":16,"t":0.3375,"i":-0.085},{"s":16,"t":0.35,"i":-0.092},{"s":16,"t":0.3625,"i":-0.089},{"s":16,"t":0.375,"i":-0.093},{"s":16,"t":0.3875,"i":-0.087},{"s":16,"t":0.4,"i":-0.09},{"s":16,"t":0.4125,"i":-0.094},{"s":16,"t":0.425,"i":-0.088},{"s":16,"t":0.4375,"i":-0.086},{"s":16,"t":0.45,"i":-0.091},{"s":16,"t":0.4625,"i":-0.093},{"s":16,"t":0.475,"i":-0.089},{"s":16,"t":0.4875,"i":-0.087},{"s":16,"t":0.5,"i":-0.092},{"s":16,"t":0.5125,"i":-0.09},{"s":16,"t":0.525,"i":-0.086},{"s":16,"t":0.5375,"i":-0.093},{"s":16,"t":0.55,"i":-0.088},{"s":16,"t":0.5625,"i":-0.091},{"s":16,"t":0.575,"i":-0.094},{"s":16,"t":0.5875,"i":-0.087},{"s":16,"t":0.5998,"i":-0.092},
{"s":16,"t":0.6002,"i":-0.015},{"s":16,"t":0.6035,"i":-0.006},{"s":16,"t":0.608,"i":-0.003},{"s":16,"t":0.618,"i":0.006},{"s":16,"t":0.631,"i":-0.005},{"s":16,"t":0.644,"i":0.002},{"s":16,"t":0.657,"i":-0.008},{"s":16,"t":0.67,"i":0.004},{"s":16,"t":0.683,"i":-0.001},{"s":16,"t":0.698,"i":0.007},
{"s":17,"t":0.001,"i":0},{"s":17,"t":0.013,"i":-0.008},{"s":17,"t":0.026,"i":0.001},{"s":17,"t":0.039,"i":0.005},{"s":17,"t":0.0408,"i":-0.017},{"s":17,"t":0.0455,"i":-0.012},{"s":17,"t":0.0502,"i":-0.016},{"s":17,"t":0.0515,"i":0.002},{"s":17,"t":0.064,"i":-0.006},{"s":17,"t":0.077,"i":0},{"s":17,"t":0.089,"i":0.004},{"s":17,"t":0.0998,"i":-0.002},
{"s":17,"t":0.1,"i":-0.129},{"s":17,"t":0.103,"i":-0.104},{"s":17,"t":0.107,"i":-0.117},
{"s":17,"t":0.1125,"i":-0.105},{"s":17,"t":0.125,"i":-0.105},{"s":17,"t":0.1375,"i":-0.111},{"s":17,"t":0.15,"i":-0.108},{"s":17,"t":0.1625,"i":-0.107},{"s":17,"t":0.175,"i":-0.113},{"s":17,"t":0.1875,"i":-0.111},{"s":17,"t":0.2,"i":-0.108},{"s":17,"t":0.2125,"i":-0.115},{"s":17,"t":0.225,"i":-0.109},{"s":17,"t":0.2375,"i":-0.112},{"s":17,"t":0.25,"i":-0.106},{"s":17,"t":0.2625,"i":-0.113},{"s":17,"t":0.275,"i":-0.11},{"s":17,"t":0.2875,"i":-0.114},{"s":17,"t":0.3,"i":-0.108},{"s":17,"t":0.3125,"i":-0.111},{"s":17,"t":0.325,"i":-0.115},{"s":17,"t":0.3375,"i":-0.109},{"s":17,"t":0.35,"i":-0.107},{"s":17,"t":0.3625,"i":-0.112},{"s":17,"t":0.375,"i":-0.114},{"s":17,"t":0.3875,"i":-0.11},{"s":17,"t":0.4,"i":-0.108},{"s":17,"t":0.4125,"i":-0.113},{"s":17,"t":0.425,"i":-0.111},{"s":17,"t":0.4375,"i":-0.107},{"s":17,"t":0.45,"i":-0.114},{"s":17,"t":0.4625,"i":-0.109},{"s":17,"t":0.475,"i":-0.112},{"s":17,"t":0.4875,"i":-0.115},{"s":17,"t":0.5,"i":-0.108},{"s":17,"t":0.5125,"i":-0.11},{"s":17,"t":0.525,"i":-0.113},{"s":17,"t":0.5375,"i":-0.106},{"s":17,"t":0.55,"i":-0.112},{"s":17,"t":0.5625,"i":-0.114},{"s":17,"t":0.575,"i":-0.109},{"s":17,"t":0.5875,"i":-0.113},{"s":17,"t":0.5998,"i":-0.124},
{"s":17,"t":0.6002,"i":-0.018},{"s":17,"t":0.6035,"i":-0.007},{"s":17,"t":0.608,"i":0.007},{"s":17,"t":0.618,"i":-0.003},{"s":17,"t":0.631,"i":0},{"s":17,"t":0.644,"i":0.005},{"s":17,"t":0.657,"i":-0.007},{"s":17,"t":0.67,"i":0.002},{"s":17,"t":0.683,"i":-0.003},{"s":17,"t":0.698,"i":0.008}
]},
"mark":{"type":"line","color":"#000000","strokeWidth":1.5,"clip":true},
"encoding":{
"x":{"field":"t","type":"quantitative","scale":{"domain":[0.0013,0.6998],"nice":false,"zero":false},
"axis":{"values":[0.1,0.6],"format":".1f","tickSize":-6,"labelPadding":18,"labelFontSize":22,"labelColor":"#262626","domainColor":"#262626","domainWidth":0.6,"tickColor":"#262626","tickWidth":0.6,"title":"t [s]","titleFontSize":24,"titleFontWeight":"normal","titleColor":"#262626","titlePadding":10}},
"y":{"field":"i","type":"quantitative","scale":{"domain":[-0.171,0.3333],"nice":false,"zero":false},
"axis":{"values":[-0.1,0,0.1,0.2,0.3],"labelExpr":"datum.value == 0 ? '0' : (datum.value < 0 ? '-' : '') + format(abs(datum.value), '.1f')","tickSize":-6,"labelPadding":22,"labelFontSize":22,"labelColor":"#262626","domainColor":"#262626","domainWidth":0.6,"tickColor":"#262626","tickWidth":0.6,"title":"I [nA]","titleFontSize":24,"titleFontWeight":"normal","titleColor":"#262626","titlePadding":3}},
"detail":{"field":"s","type":"nominal"}
}},
{"data":{"values":[{"note":"25 °C\u00a0 Activation"}]},
"mark":{"type":"text","align":"right","baseline":"alphabetic","font":"DejaVu Sans","fontSize":19,"color":"#000000"},
"encoding":{
"text":{"field":"note"},
"x":{"datum":0.698,"type":"quantitative","axis":null},
"y":{"datum":0.328,"type":"quantitative","axis":{"orient":"right","labels":false,"ticks":false,"domain":false,"grid":false,"title":"BBP Channelpedia ID 34252 rep 2","titleAngle":270,"titleFont":"DejaVu Sans","titleFontSize":14,"titleFontWeight":"normal","titleColor":"#000000","titlePadding":19}}
}}
]
}
